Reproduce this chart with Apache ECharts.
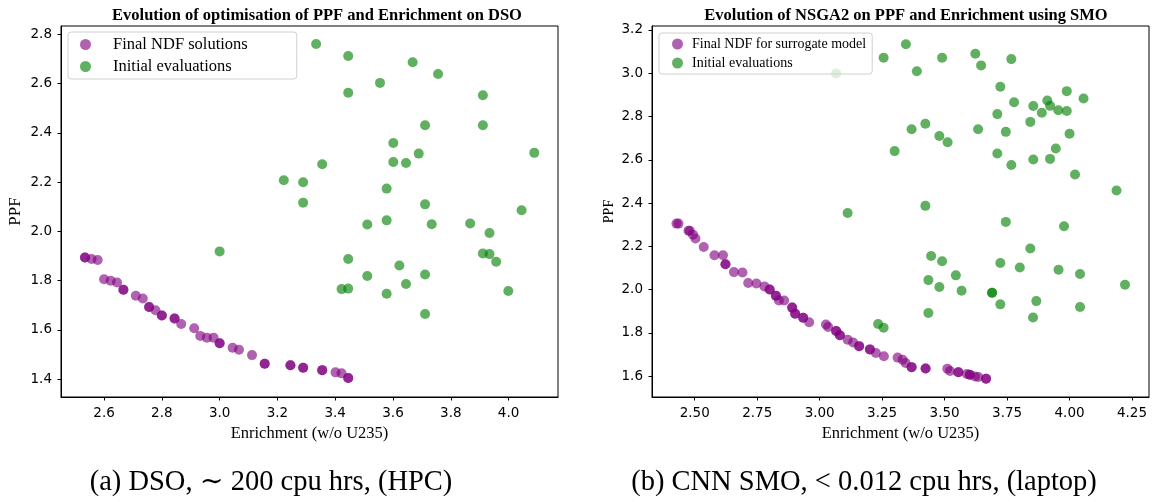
<!DOCTYPE html>
<html><head><meta charset="utf-8">
<script src="https://cdn.jsdelivr.net/npm/echarts@6/dist/echarts.min.js"></script>
<style>html,body{margin:0;padding:0;background:#fff}#c{width:1156px;height:502px}</style>
</head><body><div id="c"></div>
<script>
// ---- DATA ----
const dsoTitle = 'Evolution of optimisation of PPF and Enrichment on DSO';
const smoTitle = 'Evolution of NSGA2 on PPF and Enrichment using SMO';
const captionA = '(a) DSO, \u223C 200 cpu hrs, (HPC)';
const captionB = '(b) CNN SMO, < 0.012 cpu hrs, (laptop)';
const xLabel = 'Enrichment (w/o U235)';
const yLabel = 'PPF';
const dsoXTicks = [2.6, 2.8, 3.0, 3.2, 3.4, 3.6, 3.8, 4.0];
const dsoYTicks = [1.4, 1.6, 1.8, 2.0, 2.2, 2.4, 2.6, 2.8];
const smoXTicks = [2.5, 2.75, 3.0, 3.25, 3.5, 3.75, 4.0, 4.25];
const smoYTicks = [1.6, 1.8, 2.0, 2.2, 2.4, 2.6, 2.8, 3.0, 3.2];

const dsoFinal = [
 [2.534,1.894],[2.534,1.894],[2.557,1.888],[2.578,1.884],[2.600,1.806],[2.623,1.800],[2.645,1.793],
 [2.667,1.763],[2.667,1.763],[2.710,1.739],[2.734,1.728],[2.756,1.693],[2.756,1.693],[2.778,1.680],
 [2.800,1.659],[2.800,1.659],[2.844,1.647],[2.844,1.647],[2.867,1.624],[2.912,1.607],[2.933,1.576],
 [2.956,1.569],[2.979,1.569],[3.000,1.546],[3.000,1.546],[3.045,1.528],[3.067,1.520],[3.112,1.498],
 [3.156,1.463],[3.156,1.463],[3.245,1.457],[3.245,1.457],[3.289,1.447],[3.289,1.447],[3.355,1.437],
 [3.355,1.437],[3.401,1.428],[3.422,1.424],[3.445,1.405],[3.445,1.405]
];
const dsoInitial = [
 [3.334,2.761],[3.445,2.712],[3.668,2.687],[3.756,2.639],[3.445,2.563],[3.555,2.603],[3.911,2.553],
 [3.711,2.431],[3.911,2.431],[3.601,2.359],[3.689,2.316],[4.089,2.319],[3.601,2.282],[3.645,2.278],
 [3.355,2.273],[3.222,2.208],[3.289,2.200],[3.289,2.117],[3.578,2.174],[3.711,2.110],[4.045,2.086],
 [3.511,2.028],[3.578,2.045],[3.734,2.029],[3.867,2.032],[3.934,1.994],[3.000,1.919],[3.911,1.911],
 [3.934,1.908],[3.957,1.877],[3.445,1.888],[3.622,1.862],[3.511,1.819],[3.711,1.825],[3.645,1.787],
 [3.422,1.766],[3.445,1.768],[3.578,1.747],[3.999,1.758],[3.711,1.665]
];
const smoFinal = [
 [2.427,2.305],[2.435,2.305],[2.475,2.272],[2.480,2.272],[2.493,2.254],[2.503,2.236],[2.536,2.197],
 [2.579,2.159],[2.613,2.159],[2.623,2.117],[2.623,2.117],[2.657,2.081],[2.691,2.079],[2.714,2.031],
 [2.747,2.028],[2.779,2.015],[2.800,2.001],[2.800,2.001],[2.825,1.972],[2.825,1.972],[2.837,1.950],
 [2.858,1.950],[2.890,1.917],[2.890,1.917],[2.902,1.889],[2.902,1.889],[2.934,1.870],[2.934,1.870],
 [2.958,1.849],[3.025,1.839],[3.034,1.827],[3.066,1.809],[3.066,1.809],[3.081,1.789],[3.081,1.789],
 [3.112,1.769],[3.134,1.756],[3.158,1.739],[3.158,1.739],[3.201,1.724],[3.201,1.724],[3.225,1.707],
 [3.257,1.692],[3.312,1.686],[3.332,1.676],[3.344,1.661],[3.368,1.642],[3.368,1.642],[3.424,1.636],
 [3.424,1.636],[3.511,1.635],[3.522,1.624],[3.555,1.618],[3.555,1.618],[3.589,1.610],[3.601,1.607],
 [3.601,1.607],[3.622,1.599],[3.635,1.596],[3.666,1.588],[3.666,1.588]
];
const smoInitial = [
 [3.345,3.134],[3.256,3.071],[3.490,3.071],[3.623,3.090],[3.646,3.036],[3.767,3.065],[3.389,3.009],
 [3.723,2.937],[3.989,2.917],[4.056,2.883],[3.778,2.866],[3.911,2.874],[3.922,2.849],[3.855,2.848],
 [3.889,2.817],[3.955,2.829],[3.989,2.825],[3.711,2.811],[3.843,2.775],[3.368,2.741],[3.423,2.766],
 [3.479,2.710],[3.512,2.681],[3.634,2.741],[3.745,2.729],[4.000,2.720],[3.300,2.640],[3.711,2.629],
 [3.945,2.652],[3.855,2.601],[3.922,2.604],[3.767,2.576],[4.022,2.532],[4.188,2.458],[3.423,2.387],
 [3.112,2.354],[3.745,2.313],[3.978,2.293],[3.843,2.190],[3.446,2.155],[3.490,2.131],[3.723,2.123],
 [3.801,2.102],[3.956,2.092],[4.042,2.072],[4.222,2.023],[3.545,2.066],[3.435,2.044],[3.479,2.012],
 [3.568,1.995],[3.690,1.986],[3.690,1.986],[3.723,1.932],[3.867,1.947],[4.042,1.920],[3.435,1.892],
 [3.854,1.871],[3.234,1.841],[3.256,1.824]
];
const smoFaint = [[3.066, 2.999]];

// ---- STYLE / LAYOUT ----
const PURPLE = '#800080', GREEN = '#008000', OP = 0.62, SZ = 10;
const SERIF = '"Liberation Serif", "DejaVu Serif", serif';
const SANS = '"DejaVu Sans", sans-serif';
const gridA = {left: 61, top: 26, width: 497, height: 371};
const gridB = {left: 652, top: 26, width: 497, height: 371};

function xAxis(gi, min, max, ticks, dec) {
  return {
    type: 'value', gridIndex: gi, min: min, max: max,
    name: xLabel, nameLocation: 'middle', nameGap: 26,
    nameTextStyle: {fontFamily: SERIF, fontSize: 16.5, color: '#000'},
    splitLine: {show: false},
    axisLine: {lineStyle: {color: '#000', width: 1}},
    axisTick: {length: 3.5, lineStyle: {color: '#000'}, customValues: ticks},
    axisLabel: {fontFamily: SANS, fontSize: 13.5, color: '#000', margin: 9,
      customValues: ticks, formatter: v => Number(v).toFixed(dec)}
  };
}
function yAxis(gi, min, max, ticks, nameSize, gap) {
  return {
    type: 'value', gridIndex: gi, min: min, max: max,
    name: yLabel, nameLocation: 'middle', nameGap: gap,
    nameTextStyle: {fontFamily: SERIF, fontSize: nameSize, color: '#000'},
    splitLine: {show: false},
    axisLine: {lineStyle: {color: '#000', width: 1}},
    axisTick: {length: 3.5, lineStyle: {color: '#000'}, customValues: ticks},
    axisLabel: {fontFamily: SANS, fontSize: 13.5, color: '#000', margin: 9,
      customValues: ticks, formatter: v => Number(v).toFixed(1)}
  };
}
function scatter(name, xi, data, color, extra) {
  return Object.assign({
    type: 'scatter', name: name, xAxisIndex: xi, yAxisIndex: xi,
    data: data, symbolSize: SZ,
    itemStyle: {color: color, opacity: OP},
    emphasis: {disabled: true}, silent: true
  }, extra || {});
}

const chart = echarts.init(document.getElementById('c'));
chart.setOption({
  animation: false,
  backgroundColor: '#fff',
  title: [
    {text: dsoTitle, left: 312, top: 2, textAlign: 'center',
     textStyle: {fontFamily: SERIF, fontWeight: 'bold', fontSize: 16.5, color: '#000'}},
    {text: smoTitle, left: 901, top: 2, textAlign: 'center',
     textStyle: {fontFamily: SERIF, fontWeight: 'bold', fontSize: 16.5, color: '#000'}},
    {text: captionA, left: 266, top: 463, textAlign: 'center',
     textStyle: {fontFamily: SERIF, fontWeight: 'normal', fontSize: 28.5, color: '#000'}},
    {text: captionB, left: 859, top: 463, textAlign: 'center',
     textStyle: {fontFamily: SERIF, fontWeight: 'normal', fontSize: 28.5, color: '#000'}}
  ],
  legend: [
    {data: ['Final NDF solutions', 'Initial evaluations'], orient: 'vertical',
     left: 68, top: 32, itemWidth: 11, itemHeight: 11, itemGap: 5, icon: 'circle',
     padding: [4, 49, 4, 12], borderColor: '#d0d0d0', borderWidth: 1, borderRadius: 3,
     textStyle: {fontFamily: SERIF, fontSize: 16.5, color: '#000', padding: [0, 0, 0, 17]},
     selectedMode: false},
    {data: ['Final NDF for surrogate model', 'Initial evaluations '], orient: 'vertical',
     left: 659, top: 33, itemWidth: 11, itemHeight: 11, itemGap: 5, icon: 'circle',
     padding: [4, 6, 4, 13], borderColor: '#d0d0d0', borderWidth: 1, borderRadius: 3,
     textStyle: {fontFamily: SERIF, fontSize: 14, color: '#000', padding: [0, 0, 0, 4]},
     selectedMode: false}
  ],
  grid: [
    Object.assign({show: true, borderColor: '#000', borderWidth: 1, backgroundColor: 'transparent'}, gridA),
    Object.assign({show: true, borderColor: '#000', borderWidth: 1, backgroundColor: 'transparent'}, gridB)
  ],
  xAxis: [xAxis(0, 2.451, 4.171, dsoXTicks, 1), xAxis(1, 2.329, 4.318, smoXTicks, 2)],
  yAxis: [yAxis(0, 1.328, 2.834, dsoYTicks, 17, 37), yAxis(1, 1.504, 3.218, smoYTicks, 14, 36)],
  series: [
    scatter('Initial evaluations', 0, dsoInitial, GREEN),
    scatter('Final NDF solutions', 0, dsoFinal, PURPLE),
    scatter('Initial evaluations ', 1, smoInitial, GREEN),
    scatter('Final NDF for surrogate model', 1, smoFinal, PURPLE),
    scatter('faint', 1, smoFaint, GREEN, {itemStyle: {color: GREEN, opacity: 0.13}})
  ]
});
</script>
</body></html>
